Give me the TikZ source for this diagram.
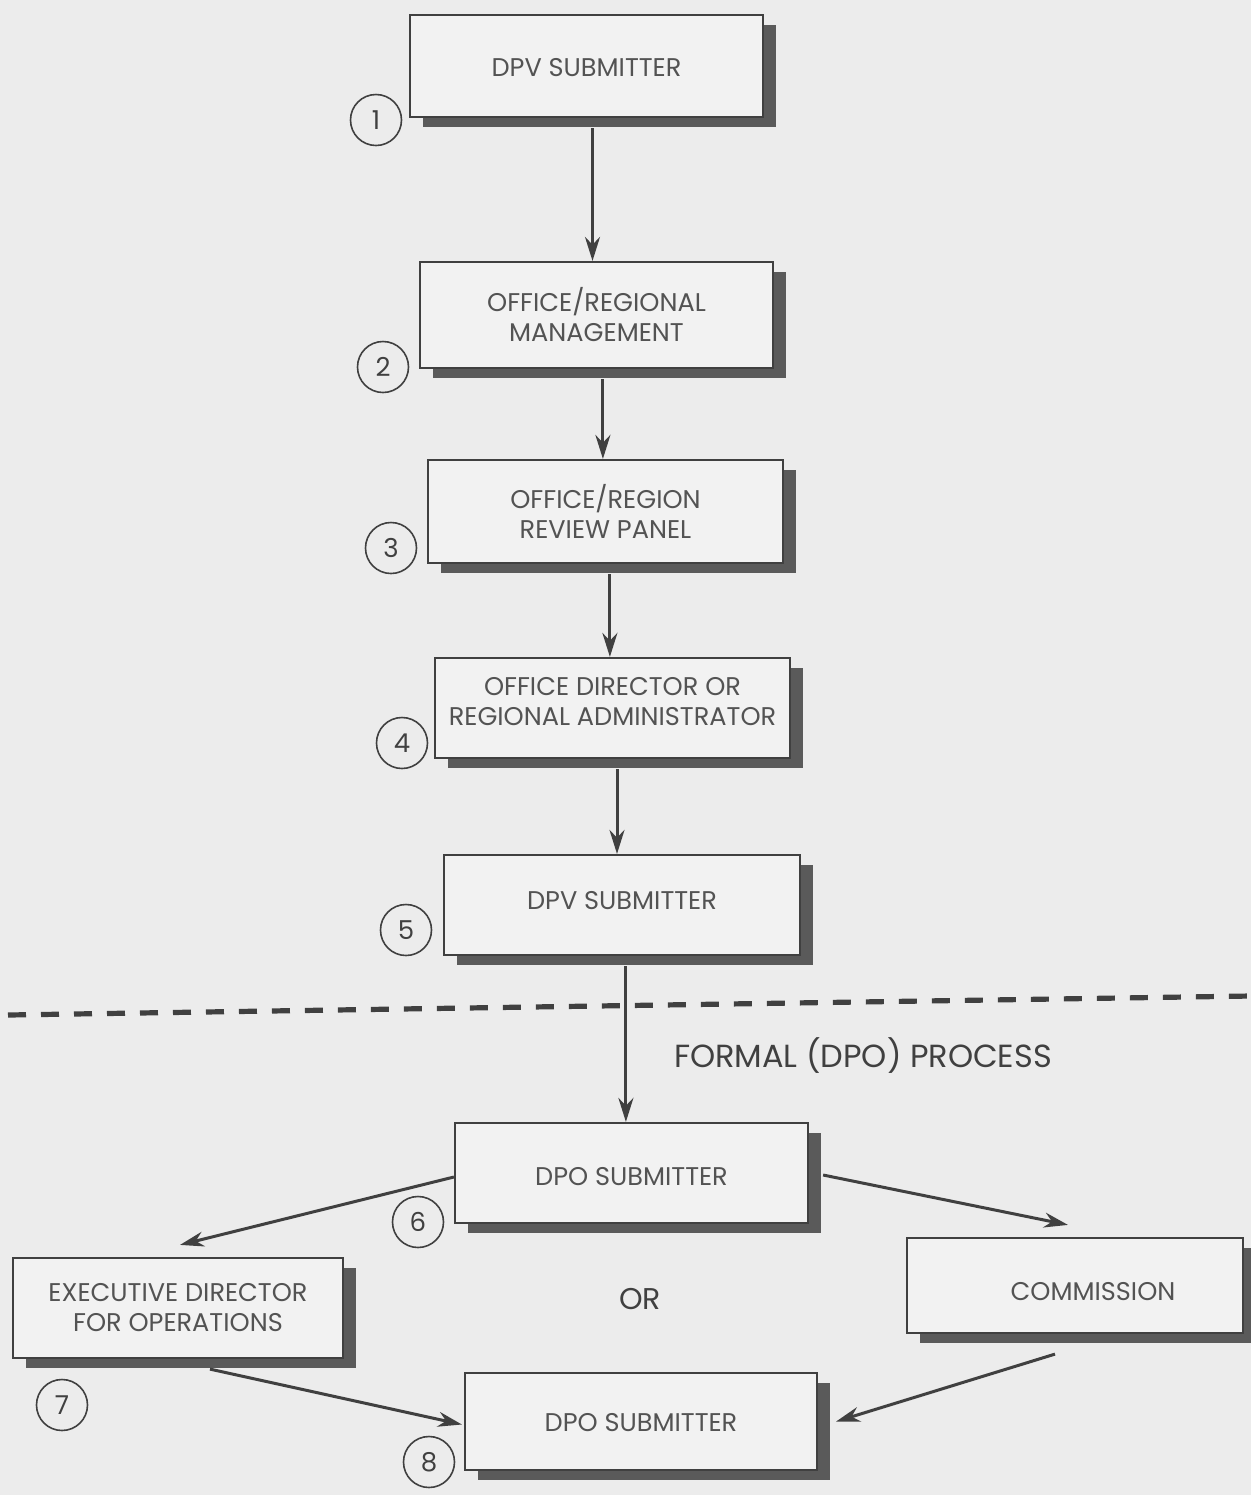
\documentclass[tikz,border=0pt]{standalone}
\usepackage{fontspec}
\setmainfont{Poppins}
\usetikzlibrary{shadows,calc,arrows.meta,fit}
\definecolor{bg}{HTML}{ECECEC}
\definecolor{boxc}{HTML}{F2F2F2}
\definecolor{shad}{HTML}{5A5A5A}
\definecolor{ink}{HTML}{404040}
\begin{document}
\begin{tikzpicture}[x=0.5pt,y=-0.5pt,
  box/.style={draw=ink, line width=1.1pt, fill=boxc, inner sep=0pt,
    drop shadow={shadow xshift=6.5pt, shadow yshift=-5pt, fill=shad, opacity=1}},
  lbl/.style={text=ink!90, align=center, inner sep=0pt, font=\fontsize{12.8}{15}\selectfont},
  num/.style={circle, draw=ink, line width=0.8pt, minimum size=25.5pt, inner sep=0pt, text=ink,
    font=\fontsize{13}{13}\selectfont},
  arr/.style={draw=ink, line width=1.5pt, -{Stealth[length=12pt,width=7.5pt]}}]
\fill[bg] (0,0) rectangle (1251,1495);
\useasboundingbox (0,0) rectangle (1251,1495);

\node[box, fit={(410,15)(763,117)}] (b1) {};
\node[box, fit={(420,262)(773,368)}] (b2) {};
\node[box, fit={(428,460)(783,563)}] (b3) {};
\node[box, fit={(435,658)(790,758)}] (b4) {};
\node[box, fit={(444,855)(800,955)}] (b5) {};
\node[box, fit={(455,1123)(808,1223)}] (b6) {};
\node[box, fit={(13,1258)(343,1358)}] (b7) {};
\node[box, fit={(907,1238)(1243,1333)}] (com) {};
\node[box, fit={(465,1373)(817,1470)}] (b8) {};

\node[lbl] (t1) at ($(b1.center)+(0,-1pt)$) {DPV SUBMITTER};
\node[lbl] (t2) at (b2.center) {OFFICE/REGIONAL\\MANAGEMENT};
\node[lbl] (t3) at (b3.center) {OFFICE/REGION\\REVIEW PANEL};
\node[lbl] (t4) at ($(b4.center)+(0,3pt)$) {OFFICE DIRECTOR OR\\REGIONAL ADMINISTRATOR};
\node[lbl] (t5) at ($(b5.center)+(0,2pt)$) {DPV SUBMITTER};
\node[lbl] (t6) at ($(b6.center)+(0,-2pt)$) {DPO SUBMITTER};
\node[lbl] (t7) at (b7.center) {EXECUTIVE DIRECTOR\\FOR OPERATIONS};
\node[lbl] (tc) at ($(com.center)+(9pt,-3pt)$) {COMMISSION};
\node[lbl] (t8) at ($(b8.center)+(0,-0.5pt)$) {DPO SUBMITTER};

\node[num] (n1) at (376,120) {1};
\node[num] (n2) at (383,367) {2};
\node[num] (n3) at (391,548) {3};
\node[num] (n4) at (402,743) {4};
\node[num] (n5) at (406,930) {5};
\node[num] (n6) at (418,1222) {6};
\node[num] (n7) at (62,1405) {7};
\node[num] (n8) at (429,1462) {8};

\coordinate (dl) at (8,1015);
\coordinate (dr) at (1251,996);
\draw[draw=ink, line width=2.6pt, dash pattern=on 9pt off 7.5pt] (dl) -- (dr);

\node[text=ink, font=\fontsize{16}{16}\selectfont] (formal) at (863,1056) {FORMAL (DPO) PROCESS};
\node[text=ink, font=\fontsize{15}{15}\selectfont] (or) at (640,1299) {OR};

\draw[arr] ($(b2.north |- b1.south)+(-2pt,-5pt)$) -- ($(b2.north)+(-2pt,0)$);
\draw[arr] ($(b3.north |- b2.south)+(-1.3pt,-5pt)$) -- ($(b3.north)+(-1.3pt,0)$);
\draw[arr] ($(b4.north |- b3.south)+(-1.3pt,-5pt)$) -- ($(b4.north)+(-1.3pt,0)$);
\draw[arr] ($(b5.north |- b4.south)+(-2.5pt,-5pt)$) -- ($(b5.north)+(-2.5pt,0)$);
\draw[arr] ($(b6.north |- b5.south)+(-2.8pt,-5pt)$) -- ($(b6.north)+(-2.8pt,0)$);

\draw[arr] ($(b6.west)+(0,-2pt)$) -- ($(b7.north)+(1pt,6pt)$);
\draw[arr] ($(b6.east)+(7pt,-1pt)$) -- ($(com.north)+(-3.5pt,6pt)$);
\draw[arr] ($(b7.south)+(16pt,-5pt)$) -- ($(b8.west)+(-1pt,-1.5pt)$);
\draw[arr] ($(com.south)+(-10pt,-10pt)$) -- ($(b8.east)+(9pt,0)$);
\end{tikzpicture}
\end{document}
